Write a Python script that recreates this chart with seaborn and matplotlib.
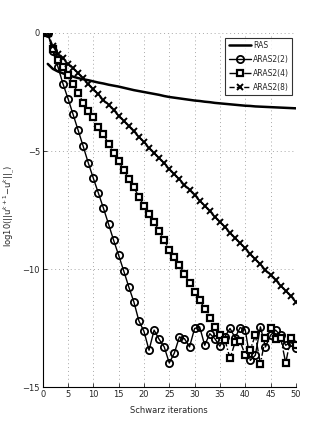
import numpy as np
import pandas as pd
import matplotlib
matplotlib.use("Agg")
import matplotlib.pyplot as plt
import seaborn as sns

# Schwarz iteration numbers
iterations = list(range(1, 51))

# log10 of the update norm
ras = [-1.31, -1.52, -1.63, -1.71, -1.78, -1.85, -1.91, -1.96, -2.00, -2.05,
       -2.10, -2.14, -2.19, -2.23, -2.27, -2.32, -2.37, -2.42, -2.46, -2.50,
       -2.54, -2.58, -2.62, -2.67, -2.71, -2.74, -2.77, -2.80, -2.83, -2.86,
       -2.88, -2.91, -2.93, -2.96, -2.98, -3.00, -3.02, -3.04, -3.06, -3.08,
       -3.09, -3.11, -3.12, -3.13, -3.14, -3.15, -3.16, -3.17, -3.18, -3.19]

aras2_2 = [0.00, -0.78, -1.43, -2.15, -2.78, -3.45, -4.12, -4.80, -5.50, -6.15,
           -6.78, -7.42, -8.09, -8.77, -9.41, -10.07, -10.75, -11.38, -12.19, -12.63,
           -13.43, -12.58, -12.97, -13.29, -13.97, -13.55, -12.87, -12.94, -13.29, -12.51,
           -12.44, -13.22, -12.73, -12.94, -13.26, -12.85, -12.51, -12.90, -12.47, -12.56,
           -13.86, -13.64, -12.44, -13.29, -12.80, -12.58, -12.80, -13.22, -13.08, -13.33]

aras2_4 = [0.00, -0.69, -1.14, -1.45, -1.78, -2.17, -2.55, -2.95, -3.30, -3.57,
           -4.00, -4.28, -4.70, -5.07, -5.41, -5.80, -6.17, -6.54, -6.93, -7.33,
           -7.65, -8.00, -8.38, -8.77, -9.17, -9.50, -9.83, -10.21, -10.58, -10.96,
           -11.31, -11.67, -12.05, -12.44, -12.80, -13.00, -13.78, -13.10, -13.05, -13.64,
           -13.40, -12.80, -14.00, -12.90, -12.50, -12.94, -12.90, -13.97, -12.90, -13.20]

aras2_8 = [0.00, -0.55, -0.90, -1.08, -1.30, -1.50, -1.71, -1.92, -2.15, -2.38,
           -2.60, -2.83, -3.05, -3.27, -3.50, -3.72, -3.95, -4.17, -4.40, -4.62,
           -4.85, -5.07, -5.30, -5.52, -5.75, -5.97, -6.20, -6.42, -6.65, -6.87,
           -7.10, -7.32, -7.55, -7.77, -8.00, -8.22, -8.45, -8.67, -8.90, -9.12,
           -9.35, -9.57, -9.80, -10.02, -10.25, -10.47, -10.70, -10.92, -11.15, -11.38]

xticks = list(range(0, 51, 5))
yticks = [-15, -10, -5, 0]

sns.set_style("white")
plt.rcParams['font.family'] = ['Liberation Sans Narrow', 'DejaVu Sans']
plt.rcParams['mathtext.fontset'] = 'custom'
plt.rcParams['mathtext.rm'] = 'Liberation Sans Narrow'

df = pd.DataFrame({'it': iterations, 'RAS': ras, 'ARAS2(2)': aras2_2,
                   'ARAS2(4)': aras2_4, 'ARAS2(8)': aras2_8})

fig = plt.figure(figsize=(3.27, 4.36), dpi=100)
ax = fig.add_axes([0.1306, 0.1117, 0.7741, 0.8127])

sns.lineplot(data=df, x='it', y='RAS', ax=ax, color='black', lw=1.8, label='RAS')
sns.lineplot(data=df, x='it', y='ARAS2(2)', ax=ax, color='black', lw=1.0,
             marker='o', markersize=5.2, mfc='none', mec='black', mew=1.3, label='ARAS2(2)')
sns.lineplot(data=df, x='it', y='ARAS2(4)', ax=ax, color='black', lw=1.0, linestyle='-.',
             marker='s', markersize=4.5, mfc='white', mec='black', mew=1.6, label='ARAS2(4)')
sns.lineplot(data=df, x='it', y='ARAS2(8)', ax=ax, color='black', lw=1.0, linestyle='--',
             marker='x', markersize=4, mec='black', mew=1.4, label='ARAS2(8)')

ax.set_xlim(0, 50)
ax.set_ylim(-15, 0)
ax.set_xticks(xticks)
ax.set_yticks(yticks)
ax.grid(True, linestyle=(0, (1, 3)), color='#a8a8a8', lw=0.7)
for s in ['top', 'right']:
    ax.spines[s].set_visible(False)
for s in ['left', 'bottom']:
    ax.spines[s].set_color('black')
    ax.spines[s].set_linewidth(0.8)
ax.tick_params(direction='in', length=3, width=0.6, labelsize=6, pad=2,
               left=True, bottom=True)

ax.set_xlabel('Schwarz iterations', fontsize=6)
ax.xaxis.set_label_coords(0.5, -0.052)
ax.set_ylabel(r'log10(||u$^{k+1}$$-$u$^{k}$||$_{\_}$)', fontsize=6)
ax.yaxis.set_label_coords(-0.10, 0.51)

leg = ax.legend(loc='upper right', bbox_to_anchor=(0.985, 0.987), borderaxespad=0,
                fontsize=5.5, frameon=True, fancybox=False, handlelength=2.9,
                handletextpad=0.3, labelspacing=0.65, borderpad=0.4)
leg.get_frame().set_edgecolor('black')
leg.get_frame().set_linewidth(0.8)

fig.savefig('out.png', dpi=100)
